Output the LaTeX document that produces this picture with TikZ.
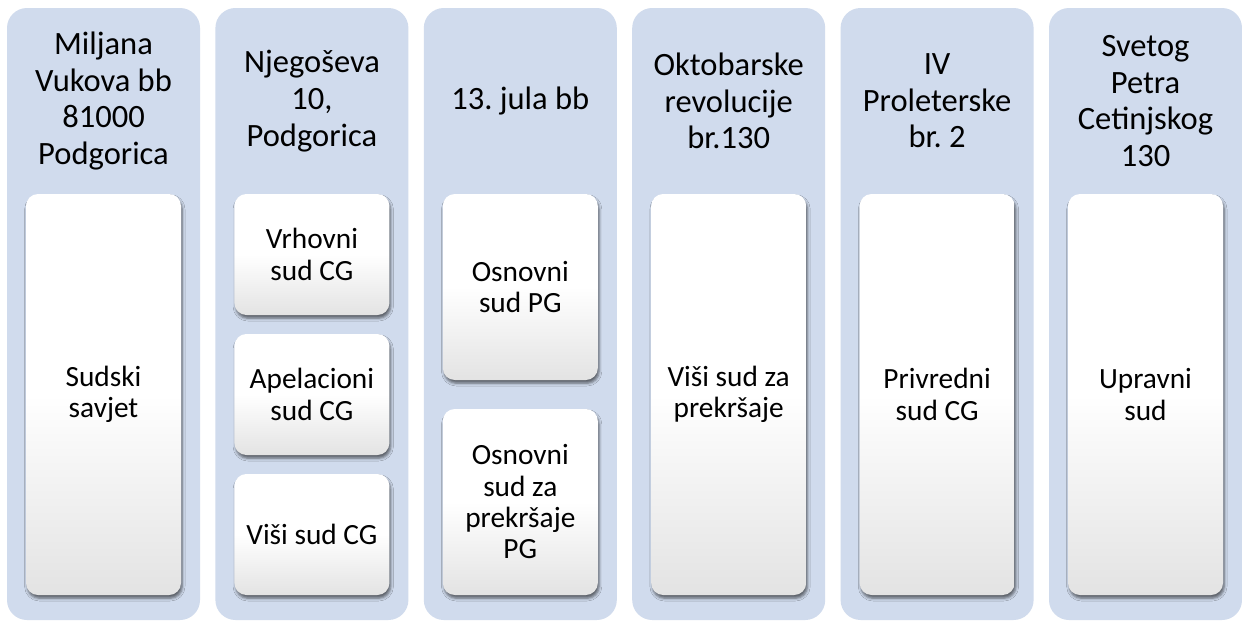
\documentclass[tikz,border=0pt]{standalone}
\usepackage{fontspec}
\setmainfont{Carlito}
\usetikzlibrary{shadows.blur}
\definecolor{colbg}{RGB}{208,219,237}
\frenchspacing
\begin{document}
\begin{tikzpicture}[x=0.75pt,y=-0.75pt,
 col/.style={rectangle, rounded corners=15pt, fill=colbg, minimum width=144.75pt, minimum height=459pt, inner sep=0pt},
 hdr/.style={align=center, font=\fontsize{24.4}{27.5}\selectfont, inner sep=0pt},
 box/.style={rectangle, rounded corners=9pt, top color=white, bottom color=black!11, middle color=white, minimum width=116.25pt, inner sep=0pt, align=center, font=\fontsize{22}{23.5}\selectfont, blur shadow={shadow xshift=1pt, shadow yshift=-2.5pt, shadow blur radius=2pt, shadow opacity=55}},
 full/.style={box, minimum height=300.75pt},
 third/.style={box, minimum height=90.75pt},
 half/.style={box, minimum height=139.5pt},
]
\useasboundingbox (0,0) rectangle (1242,621);
\fill[white] (0,0) rectangle (1242,621);
% columns
\node[col] (c1) at (103.5,314) {};
\node[col] (c2) at (311.9,314) {};
\node[col] (c3) at (520.3,314) {};
\node[col] (c4) at (728.7,314) {};
\node[col] (c5) at (937.1,314) {};
\node[col] (c6) at (1145.5,314) {};
% headers
\node[hdr] (h1) at (103.5,101) {Miljana\\Vukova bb\\81000\\Podgorica};
\node[hdr] (h2) at (311.9,101) {Njegoševa\\10,\\Podgorica};
\node[hdr] (h3) at (520.3,101) {13. jula bb};
\node[hdr] (h4) at (728.7,101) {Oktobarske\\revolucije\\br.130};
\node[hdr] (h5) at (937.1,101) {IV\\Proleterske\\br. 2};
\node[hdr] (h6) at (1145.5,101) {Svetog\\Petra\\Cetinjskog\\130};
% boxes
\node[full] (b1) at (103.5,394.5) {Sudski\\savjet};
\node[third] (b2a) at (311.9,254.5) {Vrhovni\\sud CG};
\node[third] (b2b) at (311.9,394.5) {Apelacioni\\sud CG};
\node[third] (b2c) at (311.9,534.5) {Viši sud CG};
\node[half] (b3a) at (520.3,287) {Osnovni\\sud PG};
\node[half] (b3b) at (520.3,502) {Osnovni\\sud za\\prekršaje\\PG};
\node[full] (b4) at (728.7,394.5) {Viši sud za\\prekršaje};
\node[full] (b5) at (937.1,394.5) {Privredni\\sud CG};
\node[full] (b6) at (1145.5,394.5) {Upravni\\sud};
\end{tikzpicture}
\end{document}
